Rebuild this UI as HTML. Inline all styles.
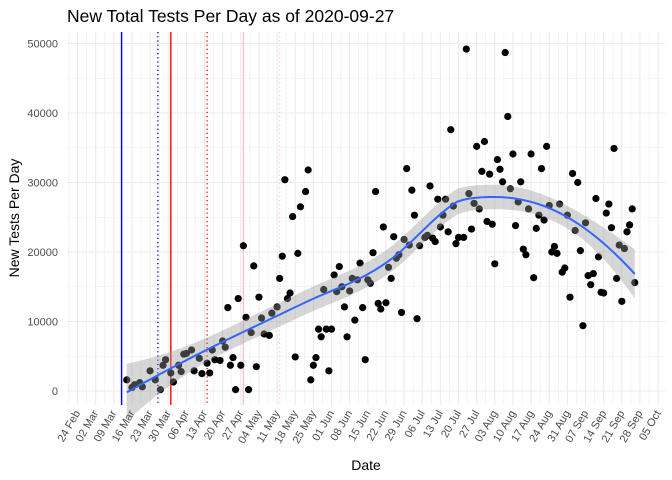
<!DOCTYPE html>
<html><head><meta charset="utf-8"><style>
body{margin:0;background:#fff;}
svg{display:block;font-family:"Liberation Sans",Arial,sans-serif;}
</style></head><body>
<svg id="chart" width="672" height="480">
<g id="grid"></g>
<g id="vlines"></g>
<g id="points"></g>
<g id="smooth"></g>
<g id="xaxis"></g>
<g id="yaxis"></g>
<text x="67" y="22" font-size="17.5" fill="#000">New Total Tests Per Day as of 2020-09-27</text>
<text x="366" y="470" font-size="14" text-anchor="middle" fill="#000">Date</text>
<text transform="translate(19,218) rotate(-90)" font-size="14" text-anchor="middle" fill="#000">New Tests Per Day</text>
</svg>
<script>
// days since 2020-02-24
const days = [19,21,22,24,25,28,30,32,33,34,36,37,39,40,41,42,44,45,47,48,50,51,52,53,55,56,57,58,59,60,61,62,63,64,65,66,67,68,69,70,71,72,74,75,77,78,79,80,81,82,83,84,85,86,88,89,90,
91,92,93,94,95,96,97,98,99,100,101,102,103,104,105,106,107,108,109,110,111,112,113,114,115,116,117,118,119,120,121,122,123,124,125,126,127,128,129,130,131,132,134,135,136,137,138,139,140,141,142,143,144,145,146,147,149,150,151,152,153,154,155,156,157,158,159,160,161,162,163,164,165,166,167,168,169,170,171,172,173,174,175,176,177,178,179,180,181,182,183,184,185,186,187,188,189,190,191,192,193,194,195,196,197,198,199,200,201,202,203,204,205,206,207,208,209,210,211,212,213,214,215];
const tests = [1600,500,900,1200,600,2900,1600,200,3700,4500,2600,1300,3700,2800,5300,5400,5900,2900,4700,2500,4000,2600,5900,4500,4400,7200,6300,12000,3700,4800,200,13300,3700,20900,10600,200,8400,18000,3500,13500,10500,8200,8000,11200,12100,16200,19400,30400,13300,14100,25100,4900,19800,26500,28700,31800,1600,
3700,4800,8900,7800,14600,8900,2900,8900,16700,14300,17900,15000,12100,7800,14400,16200,10200,16000,18400,12000,4500,16000,15500,19900,28700,12600,11800,23600,12700,17800,16200,22200,19100,19600,11300,21800,32000,21000,28900,25300,10400,20900,22100,22400,29500,22000,21500,27600,23600,25300,27600,22900,37600,26600,21200,22100,22100,49200,28400,23300,27000,35200,26200,31600,35900,24400,31200,24000,18300,33300,31900,30100,48700,39500,29100,34100,23800,27200,30100,20400,19600,26200,34100,16300,23400,25300,32000,24600,35200,26700,20000,20800,19800,26900,17100,17700,25300,13500,31300,23100,30000,20200,9400,24200,16600,15300,16900,27700,19300,14200,14100,25600,26900,23500,34900,16200,21000,12900,20500,22900,23900,26200,15600];
const xTickLabels = ["24 Feb","02 Mar","09 Mar","16 Mar","23 Mar","30 Mar","06 Apr","13 Apr","20 Apr","27 Apr","04 May","11 May","18 May","25 May","01 Jun","08 Jun","15 Jun","22 Jun","29 Jun","06 Jul","13 Jul","20 Jul","27 Jul","03 Aug","10 Aug","17 Aug","24 Aug","31 Aug","07 Sep","14 Sep","21 Sep","28 Sep","05 Oct"];
const yTicks = [0,10000,20000,30000,40000,50000];
const lineDays = [17,31,36,50,64,78];
const lineColors = ["#0000ff","#0000ff","#ff0000","#ff0000","#ffc0cb","#ffc0cb"];
const lineDashed = [false,true,false,true,false,true];

const NS="http://www.w3.org/2000/svg";
const X=d=>77.5+2.592*d, Y=v=>391-v*0.00695;
const PL=67,PR=665,PT=32,PB=405;
function mk(tag,attrs,parent){const e=document.createElementNS(NS,tag);for(const k in attrs)e.setAttribute(k,attrs[k]);parent.appendChild(e);return e;}
const grid=document.getElementById('grid');
mk('rect',{x:PL,y:PT,width:PR-PL,height:PB-PT,fill:'#fff'},grid);
for(let v=-5000;v<=52000;v+=5000){const y=Y(v);if(y<PT||y>PB)continue;const major=v%10000===0;
 const l=mk('line',{x1:PL,x2:PR,y1:y,y2:y,stroke:'#ebebeb','stroke-width':major?1.1:0.55},grid);
 
 }
for(let d=-3.5;d<=228;d+=3.5){const x=X(d);if(x<PL||x>PR)continue;const major=Math.abs(d%7)<0.01;
 const l=mk('line',{x1:x,x2:x,y1:PT,y2:PB,stroke:'#ebebeb','stroke-width':major?1.1:0.55},grid);
 
 }
const vl=document.getElementById('vlines');
lineDays.forEach((d,i)=>{const l=mk('line',{x1:X(d),x2:X(d),y1:PT,y2:PB,stroke:lineColors[i],'stroke-width':1.4},vl);
 if(lineDashed[i])l.setAttribute('stroke-dasharray','1.2,3');
 
 });
const pts=document.getElementById('points');
days.forEach((d,i)=>{const c=mk('circle',{cx:X(d),cy:Y(tests[i]),r:3.6,fill:'#000'},pts);
 
 });
// loess (span .75, degree 2)
const n=days.length,q=Math.floor(0.75*n);
function lw(x0){const dist=days.map(d=>Math.abs(d-x0));const h=dist.slice().sort((a,b)=>a-b)[q-1]*1.0001;
 const w=dist.map(t=>{const u=t/h;return u<1?Math.pow(1-u*u*u,3):0;});
 const A=[[0,0,0],[0,0,0],[0,0,0]];
 for(let i=0;i<n;i++){const z=(days[i]-x0)/h,b=[1,z,z*z];for(let r=0;r<3;r++)for(let c=0;c<3;c++)A[r][c]+=w[i]*b[r]*b[c];}
 const [a,b1,c1]=A[0],[d1,e,f]=A[1],[g,hh,k]=A[2];
 const det=a*(e*k-f*hh)-b1*(d1*k-f*g)+c1*(d1*hh-e*g);
 const r0=[(e*k-f*hh)/det,-(b1*k-c1*hh)/det,(b1*f-c1*e)/det];
 return days.map((dd,i)=>{const z=(dd-x0)/h;return w[i]*(r0[0]+r0[1]*z+r0[2]*z*z);});}
let rss=0,tr=0;
for(let j=0;j<n;j++){const l=lw(days[j]);let f=0;for(let i=0;i<n;i++)f+=l[i]*tests[i];rss+=(tests[j]-f)**2;tr+=l[j];}
const sigma=Math.sqrt(rss/(n-tr));
const lo=Math.min(...days),hi=Math.max(...days);const fit=[];
for(let s=0;s<=80;s++){const x0=lo+(hi-lo)*s/80;const l=lw(x0);let f=0,ss=0;for(let i=0;i<n;i++){f+=l[i]*tests[i];ss+=l[i]*l[i];}
 fit.push([x0,f,1.97*sigma*Math.sqrt(ss)]);}
const sm=document.getElementById('smooth');
const band=fit.map(p=>X(p[0])+','+Y(p[1]+p[2])).concat(fit.slice().reverse().map(p=>X(p[0])+','+Y(p[1]-p[2])));
const bp=mk('polygon',{points:band.join(' '),fill:'#999','fill-opacity':0.4},sm);


const lp=mk('polyline',{points:fit.map(p=>X(p[0])+','+Y(p[1])).join(' '),fill:'none',stroke:'#3366ff','stroke-width':2},sm);


const xa=document.getElementById('xaxis');
xTickLabels.forEach((t,i)=>{const x=X(i*7);
 const tx=mk('text',{transform:`translate(${x+3},${PB+8}) rotate(-60)`,'text-anchor':'end','font-size':11,fill:'#4d4d4d'},xa);
 tx.textContent=t;
 
 });
const ya=document.getElementById('yaxis');
yTicks.forEach(v=>{const tx=mk('text',{x:58,y:Y(v)+4,'text-anchor':'end','font-size':11,fill:'#4d4d4d'},ya);
 tx.textContent=String(v);
 
 });
</script>
</body></html>
